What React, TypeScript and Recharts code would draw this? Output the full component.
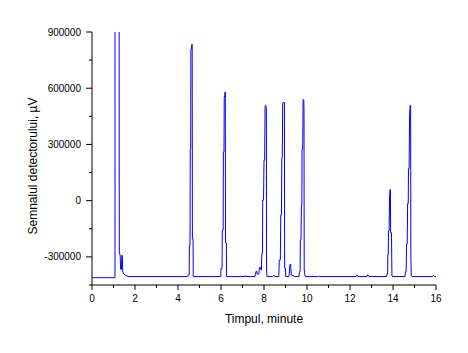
import { LineChart, Line, XAxis, YAxis } from 'recharts'

// retention time (min) and detector signal (µV)
const minutes = [
  0, 1.07, 1.07, 1.26, 1.27, 1.31, 1.33, 1.37, 1.39, 1.41, 1.43, 1.48, 1.55, 1.62, 1.68,
  4.45, 4.48, 4.52, 4.53, 4.56, 4.57, 4.59, 4.6, 4.63, 4.64, 4.66, 4.67, 4.7, 4.71,
  5.99, 6.0, 6.05, 6.06, 6.1, 6.11, 6.14, 6.15, 6.17, 6.19, 6.2, 6.21, 6.25, 6.26,
  7.13, 7.15, 7.17,
  7.58, 7.6, 7.63, 7.66, 7.68, 7.76, 7.79, 7.84, 7.86, 7.88, 7.9, 7.93, 7.94, 7.98, 8.0, 8.03, 8.05, 8.08, 8.11, 8.12, 8.14,
  8.4, 8.43, 8.48, 8.5,
  8.69, 8.71, 8.76, 8.78, 8.81, 8.83, 8.85, 8.87, 8.95, 8.96, 9.0, 9.01,
  9.16, 9.18, 9.2, 9.24, 9.27, 9.35, 9.42,
  9.63, 9.65, 9.68, 9.69, 9.72, 9.74, 9.76, 9.77, 9.8, 9.82, 9.85, 9.86, 9.87, 9.92,
  10.5, 10.53, 10.56,
  12.28, 12.31, 12.34, 12.37,
  12.79, 12.82, 12.86, 12.88,
  13.7, 13.72, 13.75, 13.76, 13.78, 13.79, 13.82, 13.84, 13.86, 13.88, 13.89, 13.93, 13.95, 14.0,
  14.56, 14.58, 14.61, 14.63, 14.66, 14.68, 14.71, 14.72, 14.75, 14.77, 14.8, 14.82, 14.83, 14.85, 14.88,
  15.83, 15.86, 15.9, 15.93, 16.0,
]
const signal = [
  -411000, -411000, 1200000, 1200000, -278000, -290000, -366000, -366000, -292000, -292000, -380000, -390000, -398000, -400000, -405000,
  -405000, -397000, -397000, -237000, -237000, 275000, 275000, 811000, 811000, 834000, 834000, -205000, -205000, -405000,
  -405000, -361000, -361000, -157000, -157000, 260000, 260000, 550000, 560000, 580000, 580000, -225000, -225000, -405000,
  -405000, -400000, -405000,
  -405000, -390000, -379000, -375000, -393000, -390000, -356000, -356000, -370000, -370000, -281000, -281000, 3000, 3000, 216000, 216000, 504000, 509000, 492000, -370000, -405000,
  -405000, -400000, -400000, -405000,
  -405000, -317000, -317000, -77000, -77000, 230000, 230000, 520000, 525000, -361000, -361000, -405000,
  -405000, -386000, -343000, -338000, -397000, -400000, -405000,
  -405000, -379000, -379000, -210000, -210000, -24000, -24000, 275000, 275000, 540000, 536000, 483000, -370000, -405000,
  -405000, -401000, -405000,
  -405000, -397000, -397000, -405000,
  -405000, -395000, -400000, -405000,
  -405000, -391000, -391000, -285000, -285000, -162000, -162000, 21000, 59000, 59000, -170000, -170000, -402000, -405000,
  -405000, -379000, -379000, -232000, -232000, -15000, -15000, 171000, 171000, 456000, 509000, 509000, -290000, -400000, -405000,
  -405000, -400000, -400000, -405000, -405000,
]

const xTicks = [0, 1, 2, 3, 4, 5, 6, 7, 8, 9, 10, 11, 12, 13, 14, 15, 16]
const yTicks = [-450000, -300000, -150000, 0, 150000, 300000, 450000, 600000, 750000, 900000]
const yLabeled = [-300000, 0, 300000, 600000, 900000]

const data = minutes.map((t, i) => ({ t, v: signal[i] }))

const font = '"Liberation Sans", Arial, sans-serif'

function XTick({ x, y, payload }: any) {
  const major = payload.value % 2 === 0
  return (
    <g>
      <line x1={x} x2={x} y1={y} y2={y + (major ? 5 : 3)} stroke="#000" />
      {major && (
        <text x={x} y={y + 17} textAnchor="middle" fontSize={10} fontFamily={font} fill="#000">
          {payload.value}
        </text>
      )}
    </g>
  )
}

function YTick({ x, y, payload }: any) {
  const major = yLabeled.includes(payload.value)
  return (
    <g>
      <line x1={x - (major ? 6 : 3)} x2={x} y1={y} y2={y} stroke="#000" />
      {major && (
        <text x={x - 11} y={y + 3.5} textAnchor="end" fontSize={10} fontFamily={font} fill="#000">
          {payload.value}
        </text>
      )}
    </g>
  )
}

export default function App() {
  return (
    <div style={{ margin: -8, width: 468, height: 353, background: '#fff' }}>
      <LineChart width={468} height={353} data={data} margin={{ top: 32, right: 32, bottom: 28, left: 0 }}>
        <XAxis
          dataKey="t"
          type="number"
          domain={[0, 16]}
          ticks={xTicks}
          interval={0}
          tickSize={0}
          tickMargin={0}
          tickLine={false}
          height={40}
          stroke="#000"
          tick={<XTick />}
          label={{
            content: () => (
              <text x={264} y={323} textAnchor="middle" fontSize={12} fontFamily={font} fill="#000">
                Timpul, minute
              </text>
            ),
          }}
        />
        <YAxis
          type="number"
          domain={[-450000, 900000]}
          allowDataOverflow
          ticks={yTicks}
          interval={0}
          tickSize={0}
          tickMargin={0}
          tickLine={false}
          width={92}
          stroke="#000"
          tick={<YTick />}
          label={{
            content: () => (
              <text
                x={37}
                y={166}
                transform="rotate(-90, 37, 166)"
                textAnchor="middle"
                fontSize={12}
                fontFamily={font}
                fill="#000"
              >
                Semnalul detectorului, µV
              </text>
            ),
          }}
        />
        <Line
          type="linear"
          dataKey="v"
          stroke="#0000ff"
          strokeWidth={1}
          dot={false}
          isAnimationActive={false}
        />
      </LineChart>
    </div>
  )
}
